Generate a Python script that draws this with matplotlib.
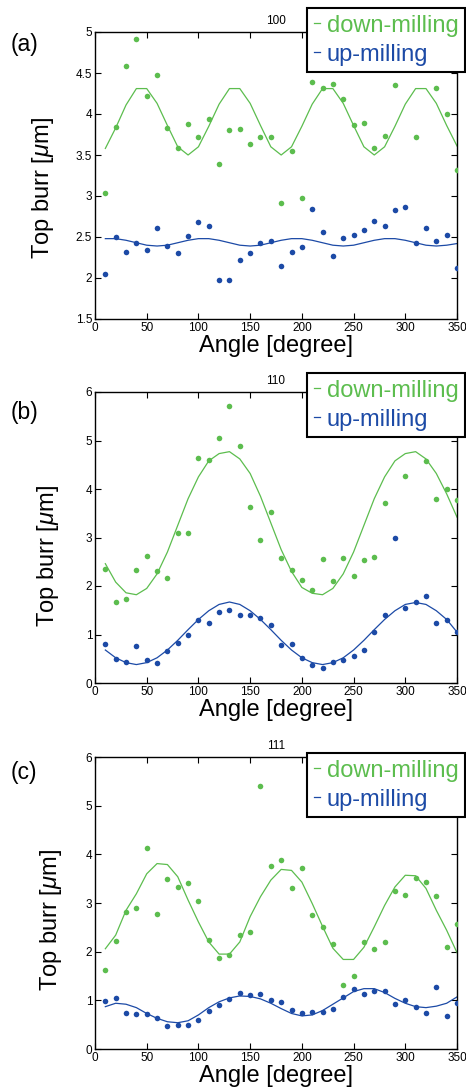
import numpy as np
import matplotlib.pyplot as plt

plt.rcParams['font.family'] = ['Liberation Sans', 'DejaVu Sans']
plt.rcParams['mathtext.fontset'] = 'custom'
plt.rcParams['mathtext.it'] = 'Liberation Sans:italic'

# -----------------------------
# Data
# -----------------------------
angle = list(range(10, 360, 10))

# (a) 100
down_a = [3.04, 3.84, 4.58, 4.91, 4.22, 4.48, 3.83, 3.58, 3.88, 3.72,
          3.94, 3.39, 3.81, 3.82, 3.64, 3.72, 3.72, 2.91, 3.55, 2.97,
          4.39, 4.32, 4.37, 4.18, 3.86, 3.89, 3.58, 3.73, 4.35, 4.60,
          3.72, 4.55, 4.32, 4.00, 3.32]
up_a = [2.05, 2.50, 2.32, 2.43, 2.34, 2.61, 2.39, 2.30, 2.51, 2.68,
        2.64, 1.98, 1.97, 2.22, 2.30, 2.43, 2.45, 2.15, 2.32, 2.38,
        2.84, 2.56, 2.27, 2.49, 2.53, 2.59, 2.69, 2.63, 2.83, 2.87,
        2.43, 2.61, 2.45, 2.53, 2.12]
down_fit_a = [3.58, 3.83, 4.11, 4.31, 4.31, 4.13, 3.86, 3.60, 3.50, 3.60,
              3.85, 4.12, 4.31, 4.31, 4.13, 3.86, 3.60, 3.50, 3.60, 3.85,
              4.12, 4.31, 4.31, 4.13, 3.86, 3.60, 3.50, 3.60, 3.85, 4.12,
              4.31, 4.31, 4.13, 3.86, 3.61]
up_fit_a = [2.48, 2.48, 2.46, 2.43, 2.40, 2.39, 2.40, 2.43, 2.46, 2.48,
            2.48, 2.46, 2.43, 2.40, 2.39, 2.40, 2.43, 2.46, 2.48, 2.48,
            2.46, 2.43, 2.40, 2.39, 2.40, 2.43, 2.46, 2.48, 2.48, 2.46,
            2.43, 2.40, 2.39, 2.40, 2.42]

# (b) 110
down_b = [2.36, 1.66, 1.73, 2.34, 2.62, 2.30, 2.16, 3.09, 3.09, 4.64,
          4.60, 5.05, 5.72, 4.89, 3.62, 2.94, 3.53, 2.57, 2.32, 2.12,
          1.92, 2.56, 2.11, 2.58, 2.20, 2.54, 2.60, 3.72, 5.40, 4.26,
          5.35, 4.58, 3.79, 4.00, 3.77]
up_b = [0.81, 0.50, 0.43, 0.76, 0.47, 0.41, 0.67, 0.82, 1.00, 1.29,
        1.23, 1.46, 1.51, 1.41, 1.40, 1.34, 1.20, 0.78, 0.81, 0.52,
        0.38, 0.30, 0.43, 0.47, 0.56, 0.68, 1.05, 1.41, 2.98, 1.55,
        1.66, 1.79, 1.23, 1.29, 1.05]
down_fit_b = [2.46, 2.08, 1.86, 1.82, 1.95, 2.25, 2.70, 3.25, 3.80, 4.25,
              4.58, 4.73, 4.77, 4.62, 4.32, 3.85, 3.30, 2.75, 2.30, 1.97,
              1.85, 1.82, 1.95, 2.25, 2.70, 3.25, 3.80, 4.25, 4.58, 4.73,
              4.77, 4.62, 4.32, 3.90, 3.42]
up_fit_b = [0.68, 0.52, 0.42, 0.38, 0.42, 0.52, 0.68, 0.88, 1.10, 1.31,
            1.49, 1.62, 1.67, 1.62, 1.49, 1.31, 1.10, 0.88, 0.68, 0.52,
            0.42, 0.38, 0.42, 0.52, 0.68, 0.88, 1.10, 1.31, 1.49, 1.62,
            1.66, 1.62, 1.49, 1.31, 1.05]

# (c) 111
down_c = [1.63, 2.22, 2.82, 2.89, 4.14, 2.77, 3.50, 3.32, 3.41, 3.04,
          2.24, 1.87, 1.93, 2.34, 2.41, 5.40, 3.77, 3.89, 3.31, 3.71,
          2.75, 2.50, 2.15, 1.31, 1.50, 2.20, 2.05, 2.19, 3.25, 3.16,
          3.52, 3.44, 3.15, 2.10, 2.56]
up_c = [0.99, 1.05, 0.73, 0.72, 0.71, 0.63, 0.48, 0.50, 0.50, 0.60,
        0.78, 0.90, 1.03, 1.16, 1.10, 1.14, 1.01, 0.97, 0.81, 0.73,
        0.76, 0.76, 0.83, 1.07, 1.23, 1.14, 1.19, 1.19, 0.92, 1.00,
        0.87, 0.73, 1.27, 0.68, 0.94]
down_fit_c = [2.06, 2.34, 2.85, 3.19, 3.60, 3.81, 3.79, 3.54, 3.06, 2.61,
              2.20, 1.95, 1.95, 2.20, 2.72, 3.13, 3.47, 3.69, 3.67, 3.43,
              2.99, 2.52, 2.07, 1.84, 1.84, 2.09, 2.51, 2.95, 3.33, 3.57,
              3.56, 3.30, 2.85, 2.44, 1.98]
up_fit_c = [0.87, 0.94, 0.92, 0.85, 0.73, 0.63, 0.56, 0.54, 0.58, 0.70,
            0.85, 0.97, 1.05, 1.09, 1.08, 1.03, 0.94, 0.83, 0.73, 0.68,
            0.70, 0.79, 0.92, 1.05, 1.18, 1.24, 1.24, 1.16, 1.04, 0.94,
            0.87, 0.85, 0.88, 0.94, 1.07]

panels = [
    ("(a)", "100", down_a, up_a, down_fit_a, up_fit_a, (1.5, 5), [1.5, 2, 2.5, 3, 3.5, 4, 4.5, 5]),
    ("(b)", "110", down_b, up_b, down_fit_b, up_fit_b, (0, 6), [0, 1, 2, 3, 4, 5, 6]),
    ("(c)", "111", down_c, up_c, down_fit_c, up_fit_c, (0, 6), [0, 1, 2, 3, 4, 5, 6]),
]

GREEN = '#5cbd4e'
BLUE = '#1c4aa6'

# -----------------------------
# Layout (pixels -> figure fractions)
# -----------------------------
W, H = 466, 1091
fig = plt.figure(figsize=(W / 100, H / 100), dpi=100)

axes_px = [(32, 319), (392, 683), (757, 1049)]   # top, bottom
legend_top = [8, 373, 753]
label_y = [45, 413, 772]
ylabel_pos = [(-0.108, 0.455), (-0.095, 0.435), (-0.087, 0.44)]

for i, (tag, title, down, up, dfit, ufit, ylim, yticks) in enumerate(panels):
    top, bot = axes_px[i]
    ax = fig.add_axes([95 / W, 1 - bot / H, (457 - 95) / W, (bot - top) / H])

    ax.plot(angle, down, 'o', color=GREEN, markersize=4, markeredgewidth=0, zorder=3)
    ax.plot(angle, up, 'o', color=BLUE, markersize=4, markeredgewidth=0, zorder=3)
    l1, = ax.plot(angle, dfit, '-', color=GREEN, linewidth=0.9, label='down-milling')
    l2, = ax.plot(angle, ufit, '-', color=BLUE, linewidth=0.9, label='up-milling')

    ax.set_xlim(0, 350)
    ax.set_ylim(*ylim)
    ax.set_xticks(range(0, 351, 50))
    ax.set_yticks(yticks)
    ax.set_yticklabels([('%g' % t) for t in yticks])
    ax.tick_params(direction='in', top=True, right=True, labelsize=8.5,
                   length=4, width=0.8, pad=2)
    for s in ax.spines.values():
        s.set_linewidth(1.0)

    ax.set_title(title, fontsize=8.5, pad=6)
    ax.set_xlabel('Angle [degree]', fontsize=17, labelpad=1)
    ax.set_ylabel(r'Top burr [$\mu$m]', fontsize=17)
    ax.yaxis.set_label_coords(*ylabel_pos[i])

    leg = ax.legend(handles=[l1, l2], loc='upper right',
                    bbox_to_anchor=(465 / W, 1 - legend_top[i] / H),
                    bbox_transform=fig.transFigure, fontsize=17,
                    labelcolor='linecolor', handlelength=0.25,
                    handletextpad=0.3, borderpad=0.28, labelspacing=0.3,
                    borderaxespad=0, fancybox=False, framealpha=1,
                    edgecolor='black')
    leg.get_frame().set_linewidth(1.5)
    leg.set_zorder(10)

    fig.text(24 / W, 1 - label_y[i] / H, tag, fontsize=16.5,
             ha='center', va='center')

fig.savefig('out.png', dpi=100)
